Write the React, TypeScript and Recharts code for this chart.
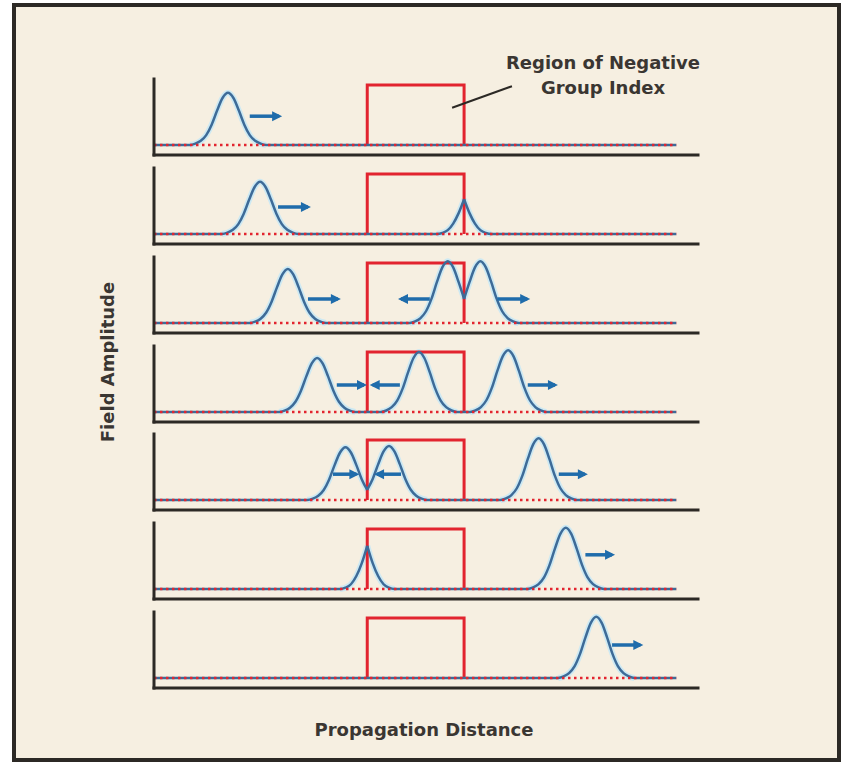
import { LineChart, Line, XAxis, YAxis, ReferenceLine } from 'recharts';

// top of each panel's y axis, in page pixels
const panelTops = [79, 168, 257, 346, 434, 523, 612];

// x runs 0..100 along each axis, y is in units of the box height
const regionStart = 39.2;
const regionEnd = 57.0;
const regionTop = 1;
const baselineEnd = 96;

// pulse profile: relative height 0,1,2.. steps from the peak
const pulseShape = [1, 0.9, 0.66, 0.39, 0.19, 0.08, 0.025, 0];
const cuspShape = [1, 0.6, 0.3, 0.11, 0.03, 0];

const pulseCenters = [[13.6], [19.5], [24.6, 54.0, 60.0], [30.0, 48.7, 65.1], [35.2, 43.2, 70.7], [75.7], [81.3]];
const pulseHeights = [[0.87], [0.87], [0.9, 1.03, 1.03], [0.9, 1.0, 1.03], [0.88, 0.9, 1.03], [1.02], [1.02]];
// where two pulses meet they are cut (steps kept on each side)
const pulseCutLeft = [[7], [7], [7, 7, 3], [7, 7, 7], [7, 4, 7], [7], [7]];
const pulseCutRight = [[7], [7], [7, 3, 7], [7, 7, 7], [4, 7, 7], [7], [7]];

const cuspCenters = [[], [57.0], [], [], [], [39.2], []];
const cuspHeights = [[], [0.58], [], [], [], [0.72], []];

const arrowTails = [[17.6], [22.8], [28.3, 50.7, 63.1], [33.6, 45.2, 68.7], [32.9, 45.4, 74.4], [79.3], [84.2]];
const arrowTips = [[23.0], [28.3], [33.8, 45.4, 68.6], [38.6, 40.2, 73.7], [37.2, 41.0, 79.2], [84.2], [89.4]];
const arrowLevels = [[0.48], [0.45], [0.4, 0.4, 0.4], [0.45, 0.45, 0.45], [0.43, 0.43, 0.43], [0.57], [0.55]];

const PULSE = '#3d6b98';
const HALO = '#cde9f3';
const ARROW = '#1f6cab';
const RED = '#e2242f';
const INK = '#2c2925';
const FONT = '"DejaVu Sans", sans-serif';

type Pt = { x: number; y: number };
type Piece = { pts: Pt[]; openEnd: boolean };

function panelPieces(i: number) {
  const pieces: Piece[] = [];
  const last = pulseShape.length - 1;
  pulseCenters[i].forEach((c, k) => {
    const h = pulseHeights[i][k];
    const pts: Pt[] = [];
    for (let o = -pulseCutLeft[i][k]; o <= pulseCutRight[i][k]; o++) {
      pts.push({ x: c + o, y: h * pulseShape[Math.abs(o)] });
    }
    pieces.push({ pts, openEnd: pulseCutRight[i][k] < last });
  });
  cuspCenters[i].forEach((c, k) => {
    const h = cuspHeights[i][k];
    const n = cuspShape.length - 1;
    const left: Pt[] = [];
    const right: Pt[] = [];
    for (let o = -n; o <= 0; o++) left.push({ x: c + o, y: h * cuspShape[-o] });
    for (let o = 0; o <= n; o++) right.push({ x: c + o, y: h * cuspShape[o] });
    pieces.push({ pts: left, openEnd: true });
    pieces.push({ pts: right, openEnd: false });
  });
  pieces.sort((a, b) => a.pts[0].x - b.pts[0].x);
  return pieces;
}

function fieldSegments(pieces: Piece[]) {
  const segs: Pt[][] = [];
  let cur: Pt[] = [{ x: 0, y: 0 }];
  pieces.forEach((p) => {
    cur.push(...p.pts);
    if (p.openEnd) {
      segs.push(cur);
      cur = [];
    }
  });
  cur.push({ x: baselineEnd, y: 0 });
  segs.push(cur);
  return segs;
}

const arrowHead = (dir: number) => (props: any) => {
  const { cx, cy, index } = props;
  if (index !== 1 || cx == null) return <g key={`a-${index}`} />;
  const tip = cx + dir * 3;
  const back = cx - dir * 7;
  return (
    <polygon
      key={`a-${index}`}
      points={`${tip},${cy} ${back},${cy - 5} ${back},${cy + 5}`}
      fill={ARROW}
    />
  );
};

const Panel = ({ i }: { i: number }) => {
  const pieces = panelPieces(i);
  const segs = fieldSegments(pieces);
  const box = [
    { x: regionStart, y: 0 },
    { x: regionStart, y: regionTop },
    { x: regionEnd, y: regionTop },
    { x: regionEnd, y: 0 },
  ];
  const base = [
    { x: 0, y: 0 },
    { x: baselineEnd, y: 0 },
  ];
  return (
    <div style={{ position: 'absolute', left: 148, top: panelTops[i] - 6 }}>
      <LineChart width={560} height={90} margin={{ top: 6, right: 10, bottom: 6, left: 4 }}>
        <XAxis
          type="number"
          dataKey="x"
          domain={[0, 100]}
          allowDataOverflow
          tick={false}
          tickLine={false}
          height={2}
          axisLine={{ stroke: INK, strokeWidth: 3, strokeLinecap: 'square' }}
        />
        <YAxis
          type="number"
          domain={[-0.1667, 1.1]}
          allowDataOverflow
          tick={false}
          tickLine={false}
          width={2}
          axisLine={{ stroke: INK, strokeWidth: 3, strokeLinecap: 'square' }}
        />
        {pieces.map((p, k) => (
          <Line
            key={`h${k}`}
            data={p.pts}
            dataKey="y"
            type="monotone"
            stroke={HALO}
            strokeWidth={6}
            dot={false}
            activeDot={false}
            legendType="none"
            isAnimationActive={false}
          />
        ))}
        <Line
          data={box}
          dataKey="y"
          type="linear"
          stroke={RED}
          strokeWidth={3}
          dot={false}
          activeDot={false}
          legendType="none"
          isAnimationActive={false}
        />
        {segs.map((s, k) => (
          <Line
            key={`f${k}`}
            data={s}
            dataKey="y"
            type="monotone"
            stroke={PULSE}
            strokeWidth={2.5}
            dot={false}
            activeDot={false}
            legendType="none"
            isAnimationActive={false}
          />
        ))}
        {arrowTails[i].map((t, k) => {
          const tip = arrowTips[i][k];
          const lv = arrowLevels[i][k];
          return (
            <Line
              key={`a${k}`}
              data={[
                { x: t, y: lv },
                { x: tip, y: lv },
              ]}
              dataKey="y"
              type="linear"
              stroke={ARROW}
              strokeWidth={3.5}
              dot={arrowHead(tip > t ? 1 : -1)}
              activeDot={false}
              legendType="none"
              isAnimationActive={false}
            />
          );
        })}
        <Line
          data={base}
          dataKey="y"
          type="linear"
          stroke={RED}
          strokeWidth={2.5}
          strokeDasharray="2.5 3.5"
          dot={false}
          activeDot={false}
          legendType="none"
          isAnimationActive={false}
        />
        {i === 0 && (
          <ReferenceLine
            segment={[
              { x: 54.8, y: 0.62 },
              { x: 65.8, y: 0.98 },
            ]}
            stroke={INK}
            strokeWidth={2}
            ifOverflow="visible"
          />
        )}
      </LineChart>
    </div>
  );
};

const labelStyle: React.CSSProperties = {
  position: 'absolute',
  fontFamily: FONT,
  fontWeight: 700,
  fontSize: 18,
  color: '#3a3632',
  whiteSpace: 'nowrap',
  transform: 'translate(-50%, -50%)',
  lineHeight: 1,
};

export default function App() {
  return (
    <div style={{ position: 'absolute', left: 0, top: 0, width: 846, height: 763, background: '#fff', overflow: 'hidden' }}>
      <div
        style={{
          position: 'absolute',
          left: 12,
          top: 3,
          width: 829,
          height: 759,
          boxSizing: 'border-box',
          border: `4px solid ${INK}`,
          background: '#f6efe1',
        }}
      />
      {panelTops.map((_, i) => (
        <Panel key={i} i={i} />
      ))}
      <div style={{ ...labelStyle, left: 603, top: 63 }}>Region of Negative</div>
      <div style={{ ...labelStyle, left: 603, top: 88 }}>Group Index</div>
      <div style={{ ...labelStyle, left: 424, top: 730 }}>Propagation Distance</div>
      <div style={{ ...labelStyle, left: 108, top: 362, transform: 'translate(-50%, -50%) rotate(-90deg)' }}>
        Field Amplitude
      </div>
    </div>
  );
}
